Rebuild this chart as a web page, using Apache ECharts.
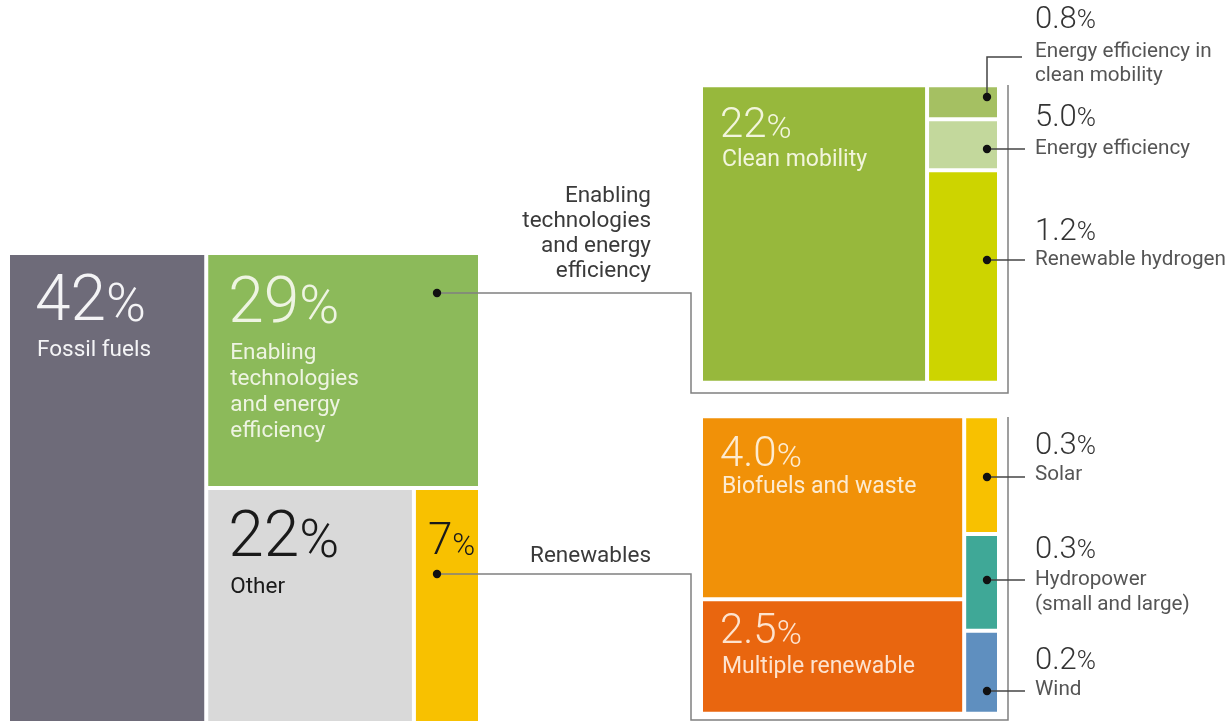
<!DOCTYPE html>
<html><head><meta charset="utf-8">
<script src="https://cdn.jsdelivr.net/npm/echarts@6/dist/echarts.min.js"></script>
<style>html,body{margin:0;padding:0;background:#fff}#c{width:1231px;height:723px}</style>
</head><body><div id="c"></div>
<script>
// ---------------- DATA ----------------
const topNames = ['Fossil fuels', 'Enabling technologies and energy efficiency', 'Other', 'Renewables'];
const topLabels = ['42', '29', '22', '7'];
const topValues = [42, 29, 22, 7];

const mobilityNames = ['Clean mobility', 'Energy efficiency in clean mobility', 'Energy efficiency', 'Renewable hydrogen'];
const mobilityLabels = ['22', '0.8', '5.0', '1.2'];      // printed shares (%)
const mobilityCellSizes = [22, 0.8, 1.2, 5.0];           // cell areas as drawn in the picture

const renewNames = ['Biofuels and waste', 'Multiple renewable', 'Solar', 'Hydropower (small and large)', 'Wind'];
const renewLabels = ['4.0', '2.5', '0.3', '0.3', '0.2'];  // printed shares (%)
const renewCellSizes = [4.0, 2.5, 0.34, 0.28, 0.24];      // cell areas as drawn in the picture

// ---------------- STYLE ----------------
const FONT = 'Roboto, "Liberation Sans", sans-serif';
const topColors = ['#6e6b79', '#8cba5a', '#d9d9d9', '#f8c100'];
const mobilityColors = ['#97b83c', '#a5c062', '#c3d89c', '#cdd400'];
const renewColors = ['#f19108', '#e9660f', '#f8c100', '#3fa897', '#5f8fbf'];

// ---------------- LAYOUT (slice and dice, in value units) ----------------
function sum(a) { return a.reduce((s, v) => s + v, 0); }

function layoutTop(v) {
  const total = sum(v), rest = total - v[0];
  const split = v[1] / rest;
  const xo = v[0] + rest * v[2] / (v[2] + v[3]);
  return [
    [0, v[0], 0, 1],
    [v[0], total, 0, split],
    [v[0], xo, split, 1],
    [xo, total, split, 1]
  ];
}
function layoutMobility(v) {
  const total = sum(v), col = sum(v.slice(1));
  const out = [[0, v[0], 0, 1]];
  let acc = 0;
  for (let i = 1; i < v.length; i++) {
    out.push([v[0], total, acc / col, (acc + v[i]) / col]);
    acc += v[i];
  }
  return out;
}
function layoutRenew(v) {
  const big = v[0] + v[1], total = sum(v), col = sum(v.slice(2));
  const out = [[0, big, 0, v[0] / big], [0, big, v[0] / big, 1]];
  let acc = 0;
  for (let i = 2; i < v.length; i++) {
    out.push([big, total, acc / col, (acc + v[i]) / col]);
    acc += v[i];
  }
  return out;
}

// label styling per cell (offsets from the cell's top-left corner)
const topCellText = [
  { big: topLabels[0], names: ['Fossil fuels'], color: '#f4f4f6', padX: 25, bigY: 49, nameY: 95, bs: 64, ps: 54, ns: 22.5, lh: 26 },
  { big: topLabels[1], names: ['Enabling', 'technologies', 'and energy', 'efficiency'], color: '#eef4e2', padX: 20, bigY: 51, nameY: 98, bs: 64, ps: 54, ns: 22.5, lh: 26 },
  { big: topLabels[2], names: ['Other'], color: '#1a1a1a', padX: 20, bigY: 50, nameY: 97, bs: 64, ps: 54, ns: 22.5, lh: 26 },
  { big: topLabels[3], names: [], color: '#1a1a1a', padX: 12, bigY: 53, nameY: 0, bs: 44, ps: 31, ns: 22, lh: 26 }
];
const mobilityCellText = [
  { big: mobilityLabels[0], names: ['Clean mobility'], color: '#f2f5dc', padX: 17, bigY: 39, nameY: 73, bs: 42, ps: 34, ns: 23, lh: 26 },
  null, null, null
];
const renewCellText = [
  { big: renewLabels[0], names: ['Biofuels and waste'], color: '#fdebd0', padX: 17, bigY: 37, nameY: 69, bs: 42, ps: 34, ns: 23, lh: 26 },
  { big: renewLabels[1], names: ['Multiple renewable'], color: '#fde3cf', padX: 17, bigY: 31, nameY: 66, bs: 42, ps: 34, ns: 23, lh: 26 },
  null, null, null
];

function makeRender(colors, texts) {
  return function (params, api) {
    const i = params.dataIndex;
    const p0 = api.coord([api.value(0), api.value(2)]);
    const p1 = api.coord([api.value(1), api.value(3)]);
    const g = 2;
    const x = p0[0] + g, y = p0[1] + g, w = p1[0] - p0[0] - 2 * g, h = p1[1] - p0[1] - 2 * g;
    const children = [{ type: 'rect', shape: { x: x, y: y, width: w, height: h }, style: { fill: colors[i] } }];
    const t = texts[i];
    if (t) {
      children.push({
        type: 'text', x: x + t.padX, y: y + t.bigY,
        style: {
          text: '{n|' + t.big + '}{p|%}', verticalAlign: 'middle', align: 'left',
          rich: {
            n: { fontSize: t.bs, fontFamily: FONT, fontWeight: 300, fill: t.color, verticalAlign: 'bottom', lineHeight: t.bs },
            p: { fontSize: t.ps, fontFamily: FONT, fontWeight: 300, fill: t.color, verticalAlign: 'bottom', lineHeight: t.ps, padding: [0, 0, Math.round((t.bs - t.ps) * 0.17), 0] }
          }
        }
      });
      t.names.forEach(function (nm, k) {
        children.push({
          type: 'text', x: x + t.padX + 2, y: y + t.nameY + k * t.lh,
          style: { text: nm, fill: t.color, fontSize: t.ns, fontFamily: FONT, verticalAlign: 'middle', align: 'left' }
        });
      });
    }
    return { type: 'group', children: children };
  };
}

const topData = layoutTop(topValues);
const mobilityData = layoutMobility(mobilityCellSizes);
const renewData = layoutRenew(renewCellSizes);

const chart = echarts.init(document.getElementById('c'));

function axisX(max, idx) { return { type: 'value', gridIndex: idx, min: 0, max: max, show: false }; }
function axisY(idx) { return { type: 'value', gridIndex: idx, min: 0, max: 1, inverse: true, show: false }; }

// ---------------- annotations ----------------
const lineGray = '#808080';
const dark = '#333';
const descColor = '#555';
function line(pts, color) {
  return { type: 'polyline', z: 100, shape: { points: pts }, style: { stroke: color || lineGray, lineWidth: 1.5, fill: null } };
}
function dot(x, y) {
  return { type: 'circle', z: 101, shape: { cx: x, cy: y, r: 4.2 }, style: { fill: '#111' } };
}
function txt(x, y, s, opt) {
  return { type: 'text', z: 102, x: x, y: y, style: Object.assign({ text: s, fill: descColor, fontSize: 20.7, fontFamily: FONT, verticalAlign: 'middle', align: 'left' }, opt || {}) };
}
function pctLabel(x, y, s) {
  return {
    type: 'text', z: 102, x: x, y: y,
    style: {
      text: '{n|' + s + '}{p|%}', verticalAlign: 'middle', align: 'left',
      rich: {
        n: { fontSize: 31, fontFamily: FONT, fontWeight: 300, fill: dark, verticalAlign: 'bottom', lineHeight: 31 },
        p: { fontSize: 26, fontFamily: FONT, fontWeight: 300, fill: dark, verticalAlign: 'bottom', lineHeight: 26, padding: [0, 0, 1, 0] }
      }
    }
  };
}

const LX = 1035; // right label column
const ANNO = { align: 'right', fill: '#3a3a3a', fontSize: 22.5 };
const graphics = [
  // bracket: enabling technologies
  line([[437, 293], [691, 293], [691, 393], [1008, 393], [1008, 85]]),
  dot(437, 293),
  // bracket: renewables
  line([[437, 574], [691, 574], [691, 720], [1008, 720], [1008, 417]]),
  dot(437, 574),
  // left annotation texts
  txt(651, 196, 'Enabling', ANNO),
  txt(651, 221, 'technologies', ANNO),
  txt(651, 246, 'and energy', ANNO),
  txt(651, 271, 'efficiency', ANNO),
  txt(651, 556, 'Renewables', ANNO),
  // mobility connectors
  line([[987, 97], [987, 57], [1022, 57]], '#444'), dot(987, 97),
  line([[987, 149], [1025, 149]], '#444'), dot(987, 149),
  line([[987, 260], [1025, 260]], '#444'), dot(987, 260),
  pctLabel(LX, 20, mobilityLabels[1]),
  txt(LX, 52, 'Energy efficiency in'), txt(LX, 76, 'clean mobility'),
  pctLabel(LX, 118, mobilityLabels[2]),
  txt(LX, 149, mobilityNames[2]),
  pctLabel(LX, 232, mobilityLabels[3]),
  txt(LX, 260, mobilityNames[3]),
  // renewables connectors
  line([[987, 477], [1025, 477]], '#444'), dot(987, 477),
  line([[987, 580], [1025, 580]], '#444'), dot(987, 580),
  line([[987, 691], [1025, 691]], '#444'), dot(987, 691),
  pctLabel(LX, 446, renewLabels[2]),
  txt(LX, 475, renewNames[2]),
  pctLabel(LX, 550, renewLabels[3]),
  txt(LX, 580, 'Hydropower'), txt(LX, 605, '(small and large)'),
  pctLabel(LX, 661, renewLabels[4]),
  txt(LX, 690, renewNames[4])
];

chart.setOption({
  backgroundColor: '#ffffff',
  animation: false,
  grid: [
    { left: 8, top: 253, width: 472, height: 473 },
    { left: 701, top: 85.3, width: 298, height: 297.4 },
    { left: 701, top: 416.3, width: 298, height: 297.4 }
  ],
  xAxis: [axisX(sum(topValues), 0), axisX(sum(mobilityCellSizes), 1), axisX(sum(renewCellSizes), 2)],
  yAxis: [axisY(0), axisY(1), axisY(2)],
  series: [
    { type: 'custom', xAxisIndex: 0, yAxisIndex: 0, clip: false, silent: true, renderItem: makeRender(topColors, topCellText), data: topData },
    { type: 'custom', xAxisIndex: 1, yAxisIndex: 1, clip: false, silent: true, renderItem: makeRender(mobilityColors, mobilityCellText), data: mobilityData },
    { type: 'custom', xAxisIndex: 2, yAxisIndex: 2, clip: false, silent: true, renderItem: makeRender(renewColors, renewCellText), data: renewData }
  ],
  graphic: graphics
});
</script>
</body></html>
